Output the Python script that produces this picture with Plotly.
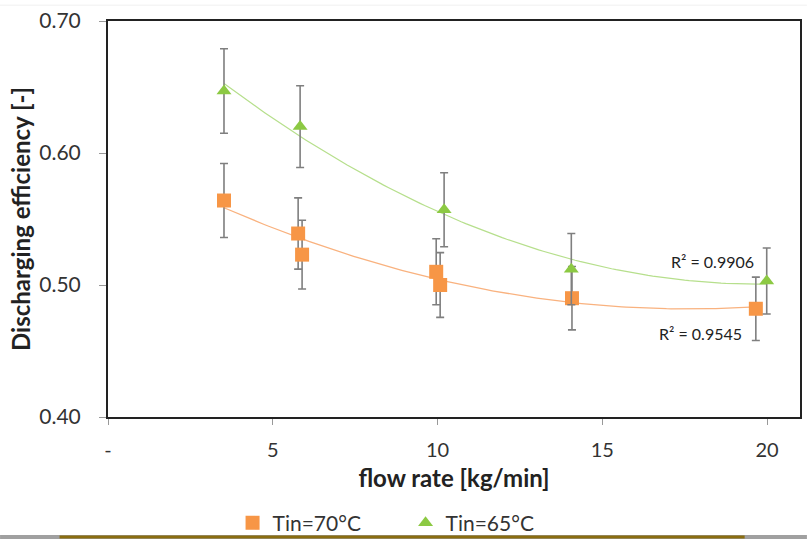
import numpy as np
import plotly.graph_objects as go

# Measured discharging efficiency vs. flow rate
flow_70 = [3.52, 5.77, 5.89, 9.96, 10.08, 14.08, 19.66]
eff_70 = [0.564, 0.539, 0.523, 0.510, 0.500, 0.490, 0.482]
err_70 = [0.028, 0.027, 0.026, 0.025, 0.0245, 0.024, 0.024]

flow_65 = [3.52, 5.83, 10.20, 14.06, 19.99]
eff_65 = [0.647, 0.620, 0.557, 0.512, 0.503]
err_65 = [0.032, 0.031, 0.028, 0.027, 0.025]

x_tick_vals = [0, 5, 10, 15, 20]
x_tick_text = ["-", "5", "10", "15", "20"]
y_tick_vals = [0.40, 0.50, 0.60, 0.70]
y_tick_text = ["0.40", "0.50", "0.60", "0.70"]

r2_labels = ["R² = 0.9906", "R² = 0.9545"]
r2_pos = [(18.33, 0.5175), (17.97, 0.4630)]

FONT = "Lato, Open Sans, sans-serif"
ORANGE = "#f79646"
GREEN = "#8cc943"
ORANGE_FIT = "#f9b27f"
GREEN_FIT = "#b6df8c"


def poly_trend(x, y):
    coef = np.polyfit(x, y, 2)
    xs = np.linspace(min(x), max(x), 120)
    return xs, np.polyval(coef, xs)


fig = go.Figure()

xs70, ys70 = poly_trend(flow_70, eff_70)
xs65, ys65 = poly_trend(flow_65, eff_65)

fig.add_trace(go.Scatter(x=xs70, y=ys70, mode="lines", showlegend=False,
                         line=dict(color=ORANGE_FIT, width=1.3), hoverinfo="skip"))
fig.add_trace(go.Scatter(x=xs65, y=ys65, mode="lines", showlegend=False,
                         line=dict(color=GREEN_FIT, width=1.2), hoverinfo="skip"))

fig.add_trace(go.Scatter(
    x=flow_70, y=eff_70, mode="markers", name="Tin=70°C",
    marker=dict(symbol="square", size=14, color=ORANGE),
    error_y=dict(type="data", array=err_70, color="#7f7f7f", thickness=1.6, width=4),
))
fig.add_trace(go.Scatter(
    x=flow_65, y=eff_65, mode="markers", name="Tin=65°C",
    marker=dict(symbol="triangle-up", size=13, color=GREEN),
    error_y=dict(type="data", array=err_65, color="#7f7f7f", thickness=1.6, width=4),
))

for label, (ax, ay) in zip(r2_labels, r2_pos):
    fig.add_annotation(x=ax, y=ay, xref="x", yref="y", text=label, showarrow=False,
                       font=dict(family=FONT, size=16, color="#222"))

fig.update_xaxes(
    range=[0, 21], tickvals=x_tick_vals, ticktext=x_tick_text,
    showgrid=False, zeroline=False, showline=True, linecolor="#222", linewidth=2,
    mirror=True, ticks="outside", ticklen=6, tickcolor="#999", tickwidth=1,
    ticklabelstandoff=8,
    tickfont=dict(family=FONT, size=20, color="#333"),
    title=dict(text="<b>flow rate [kg/min]</b>", font=dict(family=FONT, size=24, color="#222"),
               standoff=10),
)
fig.update_yaxes(
    range=[0.40, 0.70], tickvals=y_tick_vals, ticktext=y_tick_text,
    showgrid=False, zeroline=False, showline=True, linecolor="#222", linewidth=2,
    mirror=True, ticks="outside", ticklen=7, tickcolor="#999", tickwidth=1,
    ticklabelstandoff=14,
    tickfont=dict(family=FONT, size=21, color="#333"),
    title=dict(text="<b>Discharging efficiency [-]</b>", font=dict(family=FONT, size=24, color="#222"),
               standoff=2),
)

# decorative slide border along the bottom and faint top rule
fig.add_shape(type="line", xref="paper", yref="paper", x0=-0.156, x1=1.01,
              y0=-0.303, y1=-0.303, line=dict(color="#a0a0a0", width=4))
fig.add_shape(type="line", xref="paper", yref="paper", x0=-0.07, x1=0.92,
              y0=-0.303, y1=-0.303, line=dict(color="#8a6d10", width=3))
fig.add_shape(type="line", xref="paper", yref="paper", x0=-0.156, x1=1.01,
              y0=1.04, y1=1.04, line=dict(color="#f0f0f0", width=1))

fig.update_layout(
    width=807, height=541,
    margin=dict(l=108, r=7, t=21, b=124, autoexpand=False),
    paper_bgcolor="white", plot_bgcolor="white",
    showlegend=True,
    legend=dict(orientation="h", x=0.18, xanchor="left", y=-0.268, yanchor="middle",
                bgcolor="rgba(0,0,0,0)",
                font=dict(family=FONT, size=21, color="#333"), itemwidth=30,
                entrywidth=128, entrywidthmode="pixels", tracegroupgap=0),
)

fig.write_html("out.html")
